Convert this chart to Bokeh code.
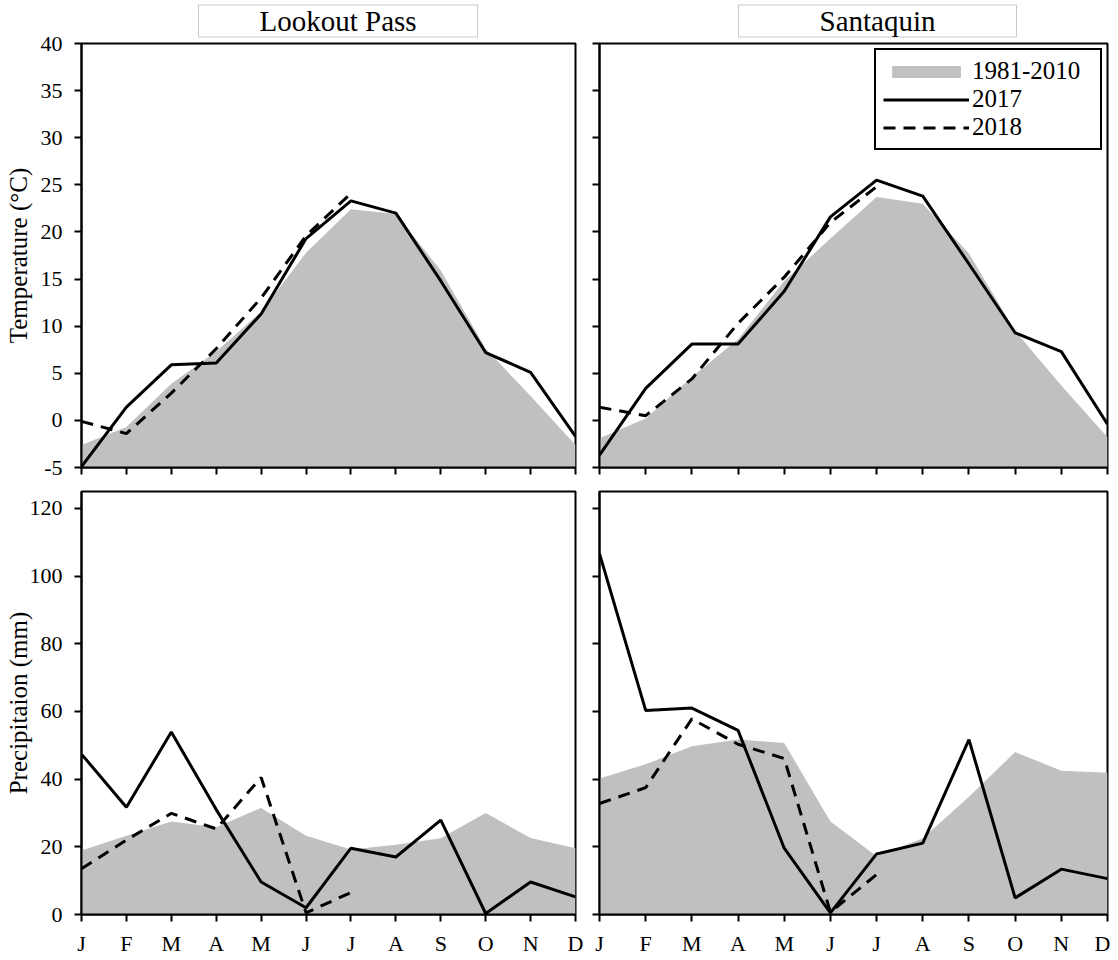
from bokeh.plotting import figure
from bokeh.layouts import column, row
from bokeh.models import FixedTicker, Title, Legend, LegendItem, Range1d
from bokeh.embed import file_html
from bokeh.resources import INLINE

# ---------------- data ----------------
months = ["J", "F", "M", "A", "M", "J", "J", "A", "S", "O", "N", "D"]
month_idx = list(range(12))
idx_2018 = list(range(7))

# Lookout Pass temperature (deg C)
lp_temp_normal = [-2.6, -0.7, 3.9, 7.3, 11.5, 17.8, 22.4, 21.9, 15.9, 7.6, 2.6, -2.6]
lp_temp_2017 = [-4.9, 1.4, 5.9, 6.1, 11.3, 19.3, 23.3, 22.0, 14.8, 7.2, 5.1, -1.7]
lp_temp_2018 = [-0.1, -1.4, 2.9, 7.6, 13.0, 19.6, 24.1]

# Santaquin temperature (deg C)
sq_temp_normal = [-1.9, 0.2, 4.6, 8.6, 14.8, 19.3, 23.7, 23.0, 17.7, 9.5, 3.7, -1.8]
sq_temp_2017 = [-3.7, 3.4, 8.1, 8.1, 13.7, 21.6, 25.5, 23.8, 16.6, 9.3, 7.3, -0.4]
sq_temp_2018 = [1.4, 0.5, 4.4, 10.3, 15.2, 21.0, 24.8]

# Lookout Pass precipitation (mm)
lp_prcp_normal = [18.9, 23.3, 27.5, 25.8, 31.5, 23.3, 19.2, 20.6, 22.5, 30.0, 22.6, 19.6]
lp_prcp_2017 = [47.4, 31.7, 53.9, 31.0, 9.6, 2.0, 19.6, 17.0, 27.9, 0.3, 9.6, 5.2]
lp_prcp_2018 = [13.5, 22.0, 29.9, 25.3, 40.5, 0.5, 6.5]

# Santaquin precipitation (mm)
sq_prcp_normal = [40.2, 44.4, 49.7, 51.7, 50.7, 27.5, 17.2, 22.5, 34.8, 48.0, 42.5, 41.9]
sq_prcp_2017 = [106.6, 60.3, 61.0, 54.4, 19.6, 0.5, 17.9, 21.1, 51.7, 4.9, 13.4, 10.6]
sq_prcp_2018 = [32.8, 37.5, 57.8, 50.3, 46.1, 0.7, 11.8]

temp_ticks = [-5, 0, 5, 10, 15, 20, 25, 30, 35, 40]
prcp_ticks = [0, 20, 40, 60, 80, 100, 120]

station_names = ["Lookout Pass", "Santaquin"]
legend_labels = ["1981-2010", "2017", "2018"]
temp_label = "Temperature (°C)"
prcp_label = "Precipitaion (mm)"

# ---------------- styling ----------------
FONT = "Liberation Serif"
GRAY = "#c0c0c0"
DASH = "12 8"


def style_ticks(ax):
    ax.axis_line_color = "black"
    ax.axis_line_width = 2
    for kind in ("major", "minor"):
        setattr(ax, kind + "_tick_line_color", "black")
        setattr(ax, kind + "_tick_line_width", 2)
        setattr(ax, kind + "_tick_out", 7)
        setattr(ax, kind + "_tick_in", 0)
    ax.major_label_text_font = FONT
    ax.major_label_text_color = "black"
    ax.major_label_text_font_size = "22px"


def make_panel(width, height, yrange, yticks, borders, xlabels, ylabels, ylabel,
               ylabel_standoff, normal, y2017, y2018):
    left, right, top, bottom = borders
    p = figure(width=width, height=height,
               x_range=Range1d(0, 11), y_range=Range1d(*yrange),
               output_backend="svg", toolbar_location=None,
               min_border_left=left, min_border_right=right,
               min_border_top=top, min_border_bottom=bottom)
    p.grid.visible = False
    p.outline_line_color = "black"
    p.outline_line_width = 2
    p.outline_line_alpha = 1
    p.background_fill_color = "white"
    p.border_fill_color = "white"

    xa = p.xaxis[0]
    ya = p.yaxis[0]
    style_ticks(xa)
    style_ticks(ya)

    if xlabels:
        xa.ticker = FixedTicker(ticks=month_idx)
        xa.major_label_overrides = {i: m for i, m in enumerate(months)}
        xa.major_label_standoff = 9
    else:
        # unlabeled ticks: minor ticks only (no label texts emitted)
        xa.ticker = FixedTicker(ticks=[], minor_ticks=month_idx)
        xa.major_label_standoff = 0

    if ylabels:
        ya.ticker = FixedTicker(ticks=yticks)
        ya.major_label_overrides = {t: str(t) for t in yticks}
        ya.major_label_standoff = 12
        ya.axis_label = ylabel
        ya.axis_label_text_font = FONT
        ya.axis_label_text_font_size = "25px"
        ya.axis_label_text_font_style = "normal"
        ya.axis_label_text_color = "black"
        ya.axis_label_standoff = ylabel_standoff
    else:
        ya.ticker = FixedTicker(ticks=[], minor_ticks=yticks)
        ya.major_label_standoff = 0

    va = p.varea(x=month_idx, y1=yrange[0], y2=normal,
                 fill_color=GRAY, fill_alpha=1)
    l1 = p.line(x=month_idx, y=y2017, line_color="black", line_width=3)
    l2 = p.line(x=idx_2018, y=y2018, line_color="black", line_width=3,
                line_dash=DASH)
    return p, va, l1, l2


def add_title(p, text, offset, pad):
    t = Title(text=text, align="left", offset=offset, vertical_align="top",
              text_font=FONT, text_font_size="29px", text_font_style="normal",
              text_color="black", standoff=9,
              border_line_color="#c8c8c8", border_line_width=1,
              background_fill_color="white",
              padding=dict(left=pad, right=pad, top=0, bottom=0))
    p.title = t


TOP_H = 480
BOT_H = 478
L_W = 589
R_W = 521

p_tl, *_ = make_panel(L_W, TOP_H, (-5, 40), temp_ticks, (81, 14, 43, 13),
                      False, True, temp_label, 6,
                      lp_temp_normal, lp_temp_2017, lp_temp_2018)
p_tr, va, l1, l2 = make_panel(R_W, TOP_H, (-5, 40), temp_ticks, (10, 3, 43, 13),
                              False, False, None, 0,
                              sq_temp_normal, sq_temp_2017, sq_temp_2018)
p_bl, *_ = make_panel(L_W, BOT_H, (0, 125), prcp_ticks, (81, 14, 11, 42),
                      True, True, prcp_label, -5,
                      lp_prcp_normal, lp_prcp_2017, lp_prcp_2018)
p_br, *_ = make_panel(R_W, BOT_H, (0, 125), prcp_ticks, (10, 3, 11, 42),
                      True, False, None, 0,
                      sq_prcp_normal, sq_prcp_2017, sq_prcp_2018)

add_title(p_tl, station_names[0], 117, 61)
add_title(p_tr, station_names[1], 139, 81)

legend = Legend(items=[LegendItem(label=legend_labels[0], renderers=[va]),
                       LegendItem(label=legend_labels[1], renderers=[l1]),
                       LegendItem(label=legend_labels[2], renderers=[l2])],
                location="top_right", margin=5, padding=7, spacing=0,
                glyph_width=86, glyph_height=15, label_standoff=3,
                label_width=121,
                label_text_font=FONT, label_text_font_size="25px",
                label_text_color="black",
                border_line_color="black", border_line_width=2,
                border_line_alpha=1,
                background_fill_color="white", background_fill_alpha=1)
p_tr.add_layout(legend)

layout = column(row(p_tl, p_tr), row(p_bl, p_br))

open("out.html", "w").write(file_html(layout, INLINE))
